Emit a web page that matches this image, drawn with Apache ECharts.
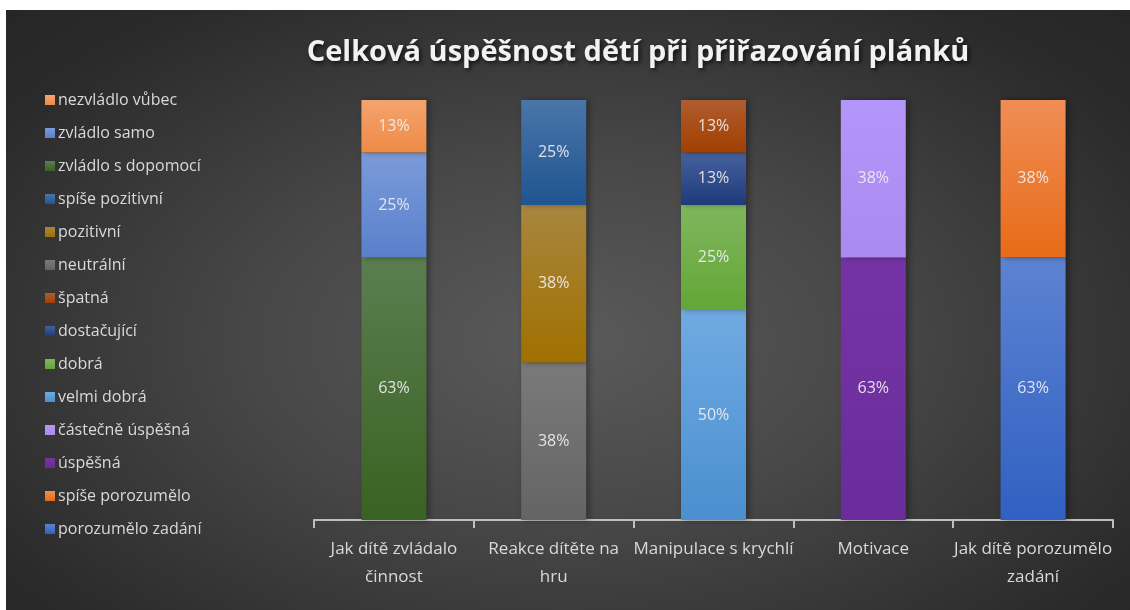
<!DOCTYPE html>
<html>
<head>
<meta charset="utf-8">
<script src="https://cdn.jsdelivr.net/npm/echarts@6/dist/echarts.min.js"></script>
<style>
  html, body { margin: 0; padding: 0; background: #ffffff; }
  #chart {
    position: absolute; left: 6px; top: 10px; width: 1124px; height: 600px;
    background: radial-gradient(ellipse at 50% 55%, #5a5a5a 0%, #474747 40%, #2a2a2a 85%, #262626 100%);
  }
</style>
</head>
<body>
<div id="chart"></div>
<script>
  // categories (x axis)
  var categories = ['Jak dítě zvládalo\nčinnost', 'Reakce dítěte na\nhru', 'Manipulace s krychlí', 'Motivace', 'Jak dítě porozumělo\nzadání'];

  // series, bottom of the stack first
  var seriesNames = ['porozumělo zadání', 'spíše porozumělo', 'úspěšná', 'částečně úspěšná',
    'velmi dobrá', 'dobrá', 'dostačující', 'špatná', 'neutrální', 'pozitivní', 'spíše pozitivní',
    'zvládlo s dopomocí', 'zvládlo samo', 'nezvládlo vůbec'];
  // which category each series belongs to
  var seriesCategory = [4, 4, 3, 3, 2, 2, 2, 2, 1, 1, 1, 0, 0, 0];
  // share in percent
  var seriesShare = [62.5, 37.5, 62.5, 37.5, 50, 25, 12.5, 12.5, 37.5, 37.5, 25, 62.5, 25, 12.5];

  // gradient top / bottom
  var colorTop = ['#5d83d2', '#f08d55', '#7534a6', '#b496fa', '#70aae2', '#80b65e', '#45629f', '#b05c30',
    '#7a7a7a', '#a8863e', '#4a75a9', '#5b7e50', '#7b9bd9', '#f4a46e'];
  var colorBottom = ['#3060c2', '#e86b18', '#6a2c9a', '#a98bf0', '#4a8fd0', '#63a636', '#1f3a78', '#a04000',
    '#646464', '#a07000', '#1f5590', '#3a6222', '#5a80cc', '#ee8a46'];

  var chart = echarts.init(document.getElementById('chart'));

  var series = seriesNames.map(function (name, i) {
    var data = categories.map(function (c, j) { return j === seriesCategory[i] ? seriesShare[i] : '-'; });
    return {
      name: name,
      type: 'bar',
      stack: 'all',
      barWidth: 65,
      data: data,
      itemStyle: {
        color: new echarts.graphic.LinearGradient(0, 0, 0, 1, [
          { offset: 0, color: colorTop[i] },
          { offset: 1, color: colorBottom[i] }
        ]),
        shadowColor: 'rgba(0,0,0,0.35)',
        shadowBlur: 6,
        shadowOffsetX: 3
      },
      label: {
        show: true,
        position: 'inside',
        color: 'rgba(240,240,240,0.9)',
        fontFamily: 'Open Sans',
        fontSize: 16,
        formatter: function (p) { return Math.round(p.value) + '%'; }
      }
    };
  });

  chart.setOption({
    animation: false,
    title: {
      text: 'Celková úspěšnost dětí při přiřazování plánků',
      left: 627,
      top: 23,
      textAlign: 'center',
      textStyle: {
        color: '#f2f2f2',
        fontFamily: 'Open Sans',
        fontWeight: 'bold',
        fontSize: 29,
        textShadowColor: 'rgba(0,0,0,0.7)',
        textShadowBlur: 4,
        textShadowOffsetX: 2,
        textShadowOffsetY: 2
      }
    },
    legend: {
      orient: 'vertical',
      left: 34,
      top: 75,
      itemWidth: 10,
      itemHeight: 10,
      itemGap: 13,
      icon: 'rect',
      data: seriesNames.slice().reverse(),
      textStyle: {
        color: '#d9d9d9',
        fontFamily: 'Open Sans',
        fontSize: 16,
        lineHeight: 20,
        padding: [0, 0, 0, -2]
      }
    },
    grid: { left: 308, right: 17, top: 90, bottom: 90 },
    xAxis: {
      type: 'category',
      data: categories,
      axisLine: { lineStyle: { color: '#bfbfbf', width: 2 } },
      axisTick: { show: true, length: 8, lineStyle: { color: '#bfbfbf', width: 2 } },
      axisLabel: {
        color: '#d9d9d9',
        fontFamily: 'Open Sans',
        fontSize: 17,
        lineHeight: 28,
        margin: 15,
        interval: 0
      }
    },
    yAxis: {
      type: 'value',
      min: 0,
      max: 100,
      show: false,
      splitLine: { show: false }
    },
    series: series
  });
</script>
</body>
</html>
